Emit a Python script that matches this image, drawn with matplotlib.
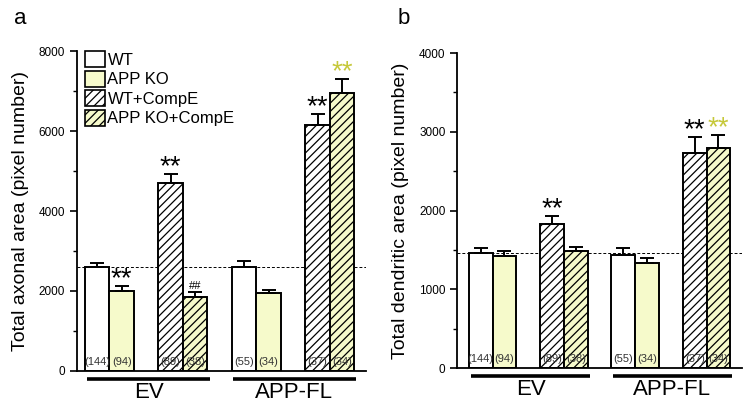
import matplotlib
matplotlib.use("Agg")
import matplotlib.pyplot as plt
import matplotlib.transforms as mtransforms
from matplotlib.patches import Patch
from matplotlib.ticker import MultipleLocator

plt.rcParams['font.family'] = ['Liberation Sans', 'DejaVu Sans']
plt.rcParams['hatch.linewidth'] = 0.9

# data
conditions = ["WT", "APP KO", "WT+CompE", "APP KO+CompE"]
groups = ["EV", "APP-FL"]
n_cells = ["(144)", "(94)", "(89)", "(38)", "(55)", "(34)", "(37)", "(34)"]

axon_mean = [2590, 1990, 4700, 1860, 2590, 1940, 6140, 6940]
axon_err = [110, 140, 230, 110, 150, 85, 280, 360]
axon_ref = 2600
axon_marks = ["", "**", "**", "##", "", "", "**", "**"]

dend_mean = [1465, 1425, 1825, 1485, 1435, 1330, 2730, 2800]
dend_err = [60, 65, 105, 55, 85, 72, 199, 157]
dend_ref = 1463
dend_marks = ["", "", "**", "", "", "", "**", "**"]

yellow = "#f6facb"
star_yellow = "#c6c83a"
fills = ["white", yellow, "white", yellow] * 2
hatches = [None, None, "////", "////"] * 2
mark_colors = ["black", "black", "black", "black", "black", "black", "black", star_yellow]

xpos = [0, 1, 3, 4, 6, 7, 9, 10]


def draw_panel(ax, means, errs, ref, marks, ymax, major, minor, ylabel, xlim):
    for i in range(len(means)):
        ax.bar(xpos[i], means[i], width=1.0, color=fills[i], edgecolor="black",
               linewidth=1.4, hatch=hatches[i], zorder=2)
        ax.errorbar(xpos[i], means[i], yerr=[[0], [errs[i]]], color="black",
                    elinewidth=1.4, capsize=5, capthick=1.4, zorder=3)
        ax.annotate(n_cells[i], (xpos[i], 0), xytext=(0, 9), textcoords="offset pixels",
                    ha="center", va="center", fontsize=8, color="#333333", zorder=4)
        if marks[i] == "**":
            ax.annotate(marks[i], (xpos[i], means[i] + errs[i]), xytext=(0, 0),
                        textcoords="offset points", ha="center", va="baseline",
                        fontsize=20, color=mark_colors[i], zorder=4)
        elif marks[i] == "##":
            ax.annotate(marks[i], (xpos[i], means[i] + errs[i]), xytext=(0, 2),
                        textcoords="offset points", ha="center", va="baseline",
                        fontsize=8, color="black", zorder=4)

    ax.axhline(ref, color="black", linestyle=(0, (3, 2)), linewidth=0.7, zorder=1)

    ax.set_xlim(*xlim)
    ax.set_ylim(0, ymax)
    ax.yaxis.set_major_locator(MultipleLocator(major))
    ax.yaxis.set_minor_locator(MultipleLocator(minor))
    ax.set_xticks([])
    for s in ["top", "right"]:
        ax.spines[s].set_visible(False)
    for s in ["left", "bottom"]:
        ax.spines[s].set_linewidth(1.3)
    ax.tick_params(axis="y", which="major", length=5, width=1.2, labelsize=8.5)
    ax.tick_params(axis="y", which="minor", length=3, width=1.0)
    ax.set_ylabel(ylabel, fontsize=14, labelpad=7)

    # group underlines and labels
    trans = mtransforms.blended_transform_factory(ax.transData, ax.transAxes)
    spans = [(-0.4, 4.6), (5.55, 10.55)]
    for (x0, x1), name in zip(spans, groups):
        ax.plot([x0, x1], [-0.026, -0.026], color="black", linewidth=2.6,
                transform=trans, clip_on=False, solid_capstyle="butt")
        ax.text((x0 + x1) / 2, -0.068, name, transform=trans, ha="center",
                va="center", fontsize=16)


fig = plt.figure(figsize=(7.46, 4.05), dpi=100)
ax_a = fig.add_axes([0.103, 0.084, 0.388, 0.790])
ax_b = fig.add_axes([0.613, 0.091, 0.382, 0.778])

draw_panel(ax_a, axon_mean, axon_err, axon_ref, axon_marks, 8000, 2000, 1000,
           "Total axonal area (pixel number)", (-0.83, 10.99))
draw_panel(ax_b, dend_mean, dend_err, dend_ref, dend_marks, 4000, 1000, 500,
           "Total dendritic area (pixel number)", (-0.98, 11.0))

handles = [Patch(facecolor=fills[i], edgecolor="black", hatch=hatches[i], linewidth=1.2)
           for i in range(4)]
ax_a.legend(handles, conditions, loc="upper left", bbox_to_anchor=(0.028, 1.0),
            frameon=False, fontsize=12, handlelength=1.2, handleheight=1.1,
            handletextpad=0.15, labelspacing=0.17, borderpad=0, borderaxespad=0)

fig.text(14 / 746, 1 - 18 / 405, "a", fontsize=16, ha="left", va="center")
fig.text(398 / 746, 1 - 18 / 405, "b", fontsize=16, ha="left", va="center")

fig.savefig("out.png", dpi=100)
